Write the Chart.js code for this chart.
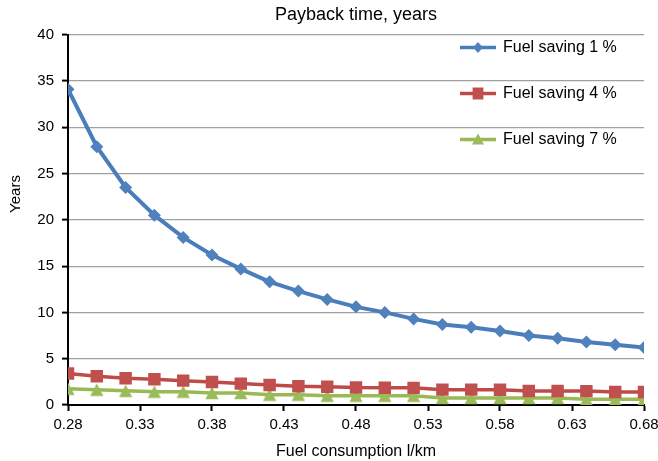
<!DOCTYPE html>
<html>
<head>
<meta charset="utf-8">
<script src="https://cdn.jsdelivr.net/npm/chart.js@4/dist/chart.umd.min.js"></script>
<style>
  html, body { margin: 0; padding: 0; background: #fff; }
  #wrap { width: 658px; height: 461px; position: relative; }
</style>
</head>
<body>
<div id="wrap"><canvas id="c"></canvas></div>
<script>
// Fuel consumption, l/km
const consumption = [0.28, 0.30, 0.32, 0.34, 0.36, 0.38, 0.40, 0.42, 0.44, 0.46, 0.48,
                     0.50, 0.52, 0.54, 0.56, 0.58, 0.60, 0.62, 0.64, 0.66, 0.68];
// Payback time in years for each fuel-saving level
const saving1 = [34.1, 27.9, 23.5, 20.5, 18.1, 16.2, 14.7, 13.3, 12.3, 11.4, 10.6,
                 10.0, 9.3, 8.7, 8.4, 8.0, 7.5, 7.2, 6.8, 6.5, 6.2];
const saving4 = [3.4, 3.1, 2.88, 2.78, 2.63, 2.49, 2.31, 2.16, 2.02, 1.98, 1.88,
                 1.86, 1.85, 1.66, 1.66, 1.65, 1.51, 1.51, 1.5, 1.4, 1.4];
const saving7 = [1.75, 1.65, 1.53, 1.44, 1.44, 1.3, 1.3, 1.12, 1.12, 1.01, 1.0,
                 1.0, 1.0, 0.76, 0.76, 0.76, 0.76, 0.76, 0.62, 0.62, 0.62];
const seriesNames = ['Fuel saving 1 %', 'Fuel saving 4 %', 'Fuel saving 7 %'];
const xTicks = [0.28, 0.33, 0.38, 0.43, 0.48, 0.53, 0.58, 0.63, 0.68];
const yTicks = [0, 5, 10, 15, 20, 25, 30, 35, 40];

const FONT = '"Liberation Sans", Arial, Helvetica, sans-serif';

const toPoints = ys => consumption.map((x, i) => ({ x, y: ys[i] }));

// Triangle marker centred on its bounding box
function triangleMarker(color) {
  const c = document.createElement('canvas');
  c.width = 14; c.height = 14;
  const g = c.getContext('2d');
  g.fillStyle = color;
  g.beginPath();
  g.moveTo(7, 0.8); g.lineTo(13.6, 13.2); g.lineTo(0.4, 13.2);
  g.closePath();
  g.fill();
  return c;
}

// Small legend markers
function drawMarker(ctx, style, x, y) {
  ctx.beginPath();
  if (style === 'rectRot') {
    ctx.moveTo(x, y - 5.4); ctx.lineTo(x + 4.8, y); ctx.lineTo(x, y + 5.4); ctx.lineTo(x - 4.8, y);
  } else if (style === 'rect') {
    ctx.rect(x - 5.4, y - 6, 10.8, 12);
  } else {
    ctx.moveTo(x, y - 6); ctx.lineTo(x + 6, y + 5); ctx.lineTo(x - 6, y + 5);
  }
  ctx.closePath();
  ctx.fill();
}

// Legend drawn inside the plot, top right
const insideLegend = {
  id: 'insideLegend',
  afterDraw(chart) {
    const ctx = chart.ctx;
    const x0 = 460, len = 36, top = 47.5, gap = 46;
    chart.data.datasets.forEach((ds, i) => {
      const y = top + i * gap;
      ctx.save();
      ctx.strokeStyle = ds.borderColor;
      ctx.lineWidth = 3.5;
      ctx.beginPath(); ctx.moveTo(x0, y); ctx.lineTo(x0 + len, y); ctx.stroke();
      ctx.fillStyle = ds.pointBackgroundColor;
      drawMarker(ctx, ds.pointStyle, x0 + len / 2, y);
      ctx.fillStyle = '#000';
      ctx.font = '16px ' + FONT;
      ctx.textBaseline = 'middle';
      ctx.textAlign = 'left';
      ctx.fillText(ds.label, x0 + len + 7, y);
      ctx.restore();
    });
  }
};

// Vertical axis title
const yTitle = {
  id: 'yTitle',
  afterDraw(chart) {
    const ctx = chart.ctx;
    ctx.save();
    ctx.translate(16, 194);
    ctx.rotate(-Math.PI / 2);
    ctx.font = '15px ' + FONT;
    ctx.fillStyle = '#000';
    ctx.textAlign = 'center';
    ctx.textBaseline = 'middle';
    ctx.fillText('Years', 0, 0);
    ctx.restore();
  }
};

const colors = [
  { line: '#4A7EBB', fill: '#4F81BD', style: 'rectRot', r: 6.5 },
  { line: '#BE4B48', fill: '#C0504D', style: 'rect', r: 8.8 },
  { line: '#98B954', fill: '#9BBB59', style: triangleMarker('#9BBB59'), r: 7 }
];
const seriesValues = [saving1, saving4, saving7];

new Chart(document.getElementById('c'), {
  type: 'line',
  data: {
    datasets: seriesValues.map((vals, i) => ({
      label: seriesNames[i],
      data: toPoints(vals),
      borderColor: colors[i].line,
      backgroundColor: colors[i].fill,
      borderWidth: i === 0 ? 4 : 3.5,
      pointStyle: colors[i].style,
      pointRadius: colors[i].r,
      pointHoverRadius: colors[i].r,
      pointBackgroundColor: colors[i].fill,
      pointBorderColor: colors[i].fill,
      pointBorderWidth: 0,
      tension: 0,
      fill: false
    }))
  },
  options: {
    responsive: true,
    maintainAspectRatio: false,
    animation: false,
    events: [],
    layout: { padding: 0 },
    plugins: {
      legend: { display: false },
      tooltip: { enabled: false },
      title: {
        display: true,
        fullSize: false,
        text: 'Payback time, years',
        color: '#000',
        font: { family: FONT, size: 18, weight: 'normal' },
        padding: { top: 4, bottom: 9 }
      }
    },
    scales: {
      x: {
        type: 'linear',
        min: 0.28,
        max: 0.68,
        afterBuildTicks: s => { s.ticks = xTicks.map(v => ({ value: v })); },
        afterFit: s => { s.height = 56; s.paddingRight = 14; s.paddingLeft = 0; },
        ticks: {
          color: '#000',
          font: { family: FONT, size: 15 },
          padding: 5,
          maxRotation: 0,
          autoSkip: false,
          callback: v => Number(v).toFixed(2)
        },
        grid: {
          drawOnChartArea: false,
          drawTicks: true,
          tickLength: 6,
          tickColor: '#000',
          tickWidth: 2
        },
        border: { color: '#000', width: 2 },
        title: {
          display: true,
          text: 'Fuel consumption l/km',
          color: '#000',
          font: { family: FONT, size: 16 },
          padding: { top: 0, bottom: 0 }
        }
      },
      y: {
        min: 0,
        max: 40,
        afterBuildTicks: s => { s.ticks = yTicks.map(v => ({ value: v })); },
        afterFit: s => { s.width = 68; s.paddingTop = 0; s.paddingBottom = 0; },
        ticks: {
          color: '#000',
          font: { family: FONT, size: 15 },
          padding: 8
        },
        grid: {
          color: '#a0a0a0',
          lineWidth: 1.2,
          tickLength: 6,
          tickColor: '#000',
          tickWidth: 2
        },
        border: { color: '#000', width: 2 }
      }
    }
  },
  plugins: [insideLegend, yTitle]
});
</script>
</body>
</html>
